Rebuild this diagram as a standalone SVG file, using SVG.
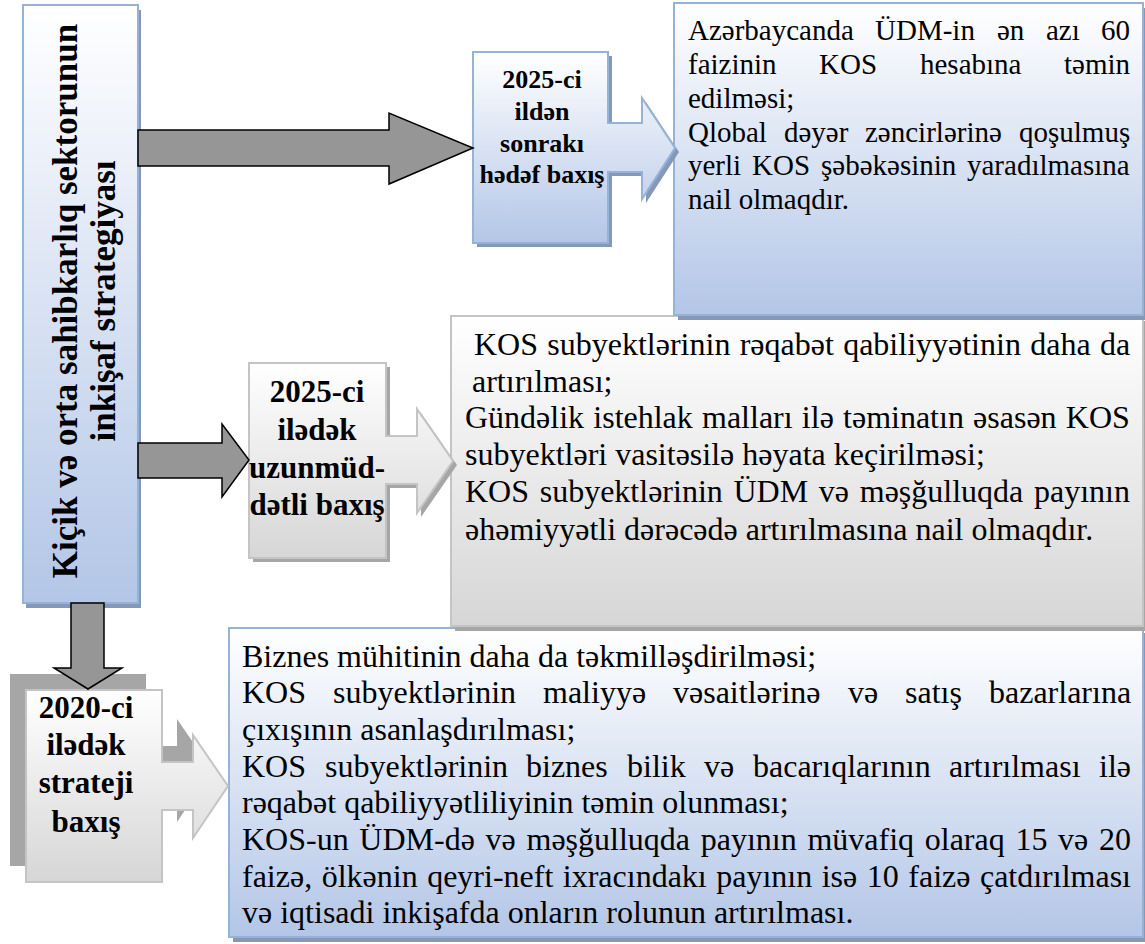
<svg xmlns="http://www.w3.org/2000/svg" width="1145" height="944" viewBox="0 0 1145 944">
<defs>
<linearGradient id="gBlue" x1="0" y1="0" x2="0" y2="1"><stop offset="0" stop-color="#ffffff"/><stop offset="1" stop-color="#b3c6e7"/></linearGradient>
<linearGradient id="gGray" x1="0" y1="0" x2="0" y2="1"><stop offset="0" stop-color="#ffffff"/><stop offset="1" stop-color="#d6d6d6"/></linearGradient>
<style>
.bbox{fill:url(#gBlue);stroke:#95b3d7;stroke-width:2}
.bsh{fill:#8598b8}
.gbox{fill:url(#gGray);stroke:#c4c4c4;stroke-width:2}
.gsh{fill:#a6a6a6}
.garrow{fill:#969696;stroke:#000;stroke-width:1.5;stroke-linejoin:miter}
.t{font-family:"Liberation Serif","Times New Roman",serif;fill:#000}
.b{font-weight:bold}
.c{text-anchor:middle}
</style>
</defs>

<g id="main-strategy">
<rect class="bsh" x="26" y="10" width="115" height="598"/>
<rect class="bbox" x="23" y="5" width="115" height="598"/>
<text class="t b c" font-size="35" transform="translate(77,301) rotate(-90)">Kiçik və orta sahibkarlıq sektorunun</text>
<text class="t b c" font-size="35" transform="translate(115,301) rotate(-90)">inkişaf strategiyası</text>
</g>

<g id="box-2020-goals">
<rect class="bsh" x="233" y="633" width="914" height="309"/>
<rect class="bbox" x="229" y="628" width="914" height="309"/>
<g class="t" font-size="32">
<text x="242" y="667">Biznes mühitinin daha da təkmilləşdirilməsi;</text>
<text y="703"><tspan x="242">KOS</tspan><tspan x="333">subyektlərinin</tspan><tspan x="543">maliyyə</tspan><tspan x="673">vəsaitlərinə</tspan><tspan x="848">və</tspan><tspan x="905">satış</tspan><tspan x="989">bazarlarına</tspan></text>
<text x="242" y="740">çıxışının asanlaşdırılması;</text>
<text y="777"><tspan x="242">KOS</tspan><tspan x="325">subyektlərinin</tspan><tspan x="526">biznes</tspan><tspan x="627">bilik</tspan><tspan x="704">və</tspan><tspan x="753">bacarıqlarının</tspan><tspan x="949">artırılması</tspan><tspan x="1099">ilə</tspan></text>
<text x="242" y="813">rəqabət qabiliyyətliliyinin təmin olunması;</text>
<text x="242" y="850" word-spacing="2.7">KOS-un ÜDM-də və məşğulluqda payının müvafiq olaraq 15 və 20</text>
<text x="242" y="887" word-spacing="1.5">faizə, ölkənin qeyri-neft ixracındakı payının isə 10 faizə çatdırılması</text>
<text x="242" y="923">və iqtisadi inkişafda onların rolunun artırılması.</text>
</g>
</g>

<g id="box-2025-goals">
<rect class="gsh" x="455" y="321" width="692" height="310"/>
<rect class="gbox" x="451" y="316" width="692" height="310"/>
<g class="t" font-size="32">
<text x="474" y="355" word-spacing="1.3">KOS subyektlərinin rəqabət qabiliyyətinin daha da</text>
<text x="472" y="392">artırılması;</text>
<text x="465" y="428" word-spacing="1.2">Gündəlik istehlak malları ilə təminatın əsasən KOS</text>
<text x="465" y="465">subyektləri vasitəsilə həyata keçirilməsi;</text>
<text x="465" y="502" word-spacing="2.7">KOS subyektlərinin ÜDM və məşğulluqda payının</text>
<text x="465" y="540">əhəmiyyətli dərəcədə artırılmasına nail olmaqdır.</text>
</g>
</g>

<g id="box-after-2025-goals">
<rect class="bsh" x="678" y="8" width="469" height="312"/>
<rect class="bbox" x="674" y="3" width="469" height="312"/>
<g class="t" font-size="29">
<text y="40"><tspan x="688">Azərbaycanda</tspan><tspan x="875">ÜDM-in</tspan><tspan x="997">ən</tspan><tspan x="1046">azı</tspan><tspan x="1101">60</tspan></text>
<text y="74"><tspan x="688">faizinin</tspan><tspan x="819">KOS</tspan><tspan x="920">hesabına</tspan><tspan x="1064">təmin</tspan></text>
<text x="688" y="108">edilməsi;</text>
<text y="142"><tspan x="688">Qlobal</tspan><tspan x="784">dəyər</tspan><tspan x="865">zəncirlərinə</tspan><tspan x="1019">qoşulmuş</tspan></text>
<text y="175"><tspan x="688">yerli</tspan><tspan x="752">KOS</tspan><tspan x="821">şəbəkəsinin</tspan><tspan x="967">yaradılmasına</tspan></text>
<text x="688" y="209">nail olmaqdır.</text>
</g>
</g>

<g id="node-2020">
<path class="gsh" d="M10,674 L146,674 L146,746 L177,746 L177,719 L212,770 L177,822 L177,794 L146,794 L146,866 L10,866 Z"/>
<path class="gbox" d="M26,690 L162,690 L162,762 L193,762 L193,735 L228,786 L193,838 L193,810 L162,810 L162,882 L26,882 Z"/>
<g class="t b c" font-size="31">
<text x="86" y="718">2020-ci</text>
<text x="86" y="755">ilədək</text>
<text x="86" y="793">strateji</text>
<text x="86" y="832">baxış</text>
</g>
</g>

<g id="node-2025-long">
<path class="gsh" d="M253,367 L390,367 L390,440 L421,440 L421,413 L457,465 L421,517 L421,488 L390,488 L390,562 L253,562 Z"/>
<path class="gbox" d="M249,363 L386,363 L386,436 L417,436 L417,409 L453,461 L417,513 L417,484 L386,484 L386,558 L249,558 Z"/>
<g class="t b c" font-size="31">
<text x="317" y="402">2025-ci</text>
<text x="317" y="440">ilədək</text>
<text x="317" y="478">uzunmüd-</text>
<text x="317" y="515">dətli baxış</text>
</g>
</g>

<g id="node-after-2025">
<path class="bsh" d="M477,56 L612,56 L612,127 L646,127 L646,102 L679,152 L646,203 L646,176 L612,176 L612,247 L477,247 Z"/>
<path class="bbox" d="M473,52 L608,52 L608,123 L642,123 L642,98 L675,148 L642,199 L642,172 L608,172 L608,243 L473,243 Z"/>
<g class="t b c" font-size="26">
<text x="542" y="88">2025-ci</text>
<text x="542" y="120">ildən</text>
<text x="542" y="152">sonrakı</text>
<text x="542" y="183">hədəf baxış</text>
</g>
</g>

<g id="connectors">
<path class="garrow" d="M138,130 L389,130 L389,113 L473,148 L389,184 L389,166 L138,166 Z"/>
<path class="garrow" d="M138,443 L222,443 L222,424 L249,460 L222,497 L222,478 L138,478 Z"/>
<path class="garrow" d="M71,603 L104,603 L104,668 L122,668 L88,689 L54,668 L71,668 Z"/>
</g>
</svg>
